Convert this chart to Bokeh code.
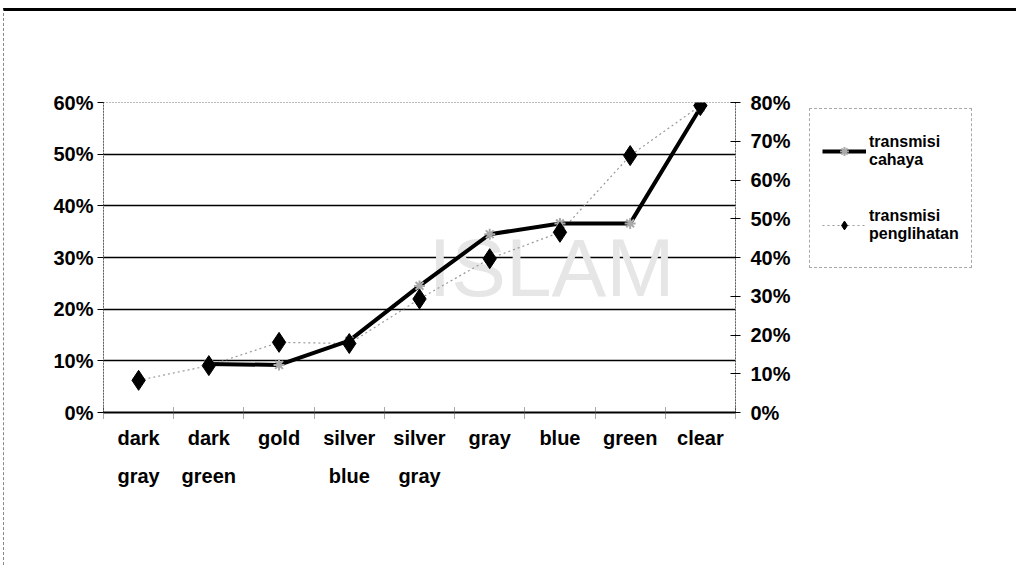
import numpy as np
from bokeh.plotting import figure
from bokeh.layouts import row
from bokeh.models import (Range1d, LinearAxis, FixedTicker, NumeralTickFormatter,
                          Legend, LegendItem, Label)
from bokeh.embed import file_html
from bokeh.resources import INLINE

# ---- data ----
categories = ["dark\ngray", "dark\ngreen", "gold", "silver\nblue", "silver\ngray",
              "gray", "blue", "green", "clear"]
transmisi_cahaya = [np.nan, 0.094, 0.092, 0.139, 0.245, 0.345, 0.366, 0.366, 0.59]
transmisi_penglihatan = [0.083, 0.121, 0.181, 0.178, 0.293, 0.397, 0.465, 0.663, 0.792]
left_ticks = [0.0, 0.1, 0.2, 0.3, 0.4, 0.5, 0.6]
right_ticks = [0.0, 0.1, 0.2, 0.3, 0.4, 0.5, 0.6, 0.7, 0.8]
series_names = ["transmisi\ncahaya", "transmisi\npenglihatan"]

FONT = "Liberation Sans"
FS = "20px"

# page offsets produced by the scanned page border (top rule, left dotted edge)
TOP_OFF = 11
LEFT_OFF = 4

n = len(categories)
xs = [i + 0.5 for i in range(n)]
bounds = [float(i) for i in range(n + 1)]

H = 554
MAIN_W = 800 - LEFT_OFF
FRAME_L, FRAME_R, FRAME_T, FRAME_B = 103, 735, 102, 412
p = figure(width=MAIN_W, height=H, output_backend="svg", toolbar_location=None,
           x_range=Range1d(0, n), y_range=Range1d(left_ticks[0], left_ticks[-1]),
           min_border_left=FRAME_L - LEFT_OFF,
           min_border_right=MAIN_W - (FRAME_R - LEFT_OFF),
           min_border_top=FRAME_T - TOP_OFF,
           min_border_bottom=H - (FRAME_B - TOP_OFF))
p.extra_y_ranges = {"right": Range1d(right_ticks[0], right_ticks[-1])}

p.background_fill_color = "white"
p.border_fill_color = "white"
p.outline_line_color = "#777777"
p.outline_line_dash = "1 2"
p.outline_line_width = 1

# grid
p.xgrid.visible = False
p.ygrid.ticker = FixedTicker(ticks=left_ticks[1:-1])
p.ygrid.grid_line_color = "black"
p.ygrid.grid_line_width = 1.5

# x axis
xa = p.xaxis[0]
xa.ticker = FixedTicker(ticks=xs, minor_ticks=bounds)
xa.major_label_overrides = {x: c for x, c in zip(xs, categories)}
xa.major_tick_line_color = None
xa.major_tick_out = 0
xa.major_tick_in = 0
xa.minor_tick_line_color = "#555555"
xa.minor_tick_line_dash = "1 1"
xa.minor_tick_in = 6
xa.minor_tick_out = 6
xa.axis_line_color = "black"
xa.axis_line_width = 2
xa.major_label_standoff = 8
xa.major_label_text_font = FONT
xa.major_label_text_font_size = FS
xa.major_label_text_font_style = "bold"
xa.major_label_text_color = "black"
xa.major_label_text_line_height = 1.75

# left axis
ya = p.yaxis[0]
ya.ticker = FixedTicker(ticks=left_ticks)
ya.formatter = NumeralTickFormatter(format="0%")
ya.axis_line_color = "black"
ya.axis_line_dash = "1 2"
ya.major_tick_in = 0
ya.major_tick_out = 6
ya.minor_tick_line_color = None
ya.major_label_standoff = 4
ya.major_label_text_font = FONT
ya.major_label_text_font_size = FS
ya.major_label_text_font_style = "bold"
ya.major_label_text_color = "black"

# right axis
ra = LinearAxis(y_range_name="right", ticker=FixedTicker(ticks=right_ticks),
                formatter=NumeralTickFormatter(format="0%"))
ra.axis_line_color = "black"
ra.axis_line_dash = "1 2"
ra.major_tick_in = 5
ra.major_tick_out = 5
ra.minor_tick_line_color = None
ra.major_label_standoff = 10
ra.major_label_text_font = FONT
ra.major_label_text_font_size = FS
ra.major_label_text_font_style = "bold"
ra.major_label_text_color = "black"
p.add_layout(ra, "right")

# watermark
wm = Label(x=325, y=100, x_units="screen", y_units="screen", text="ISLAM",
           text_font="Liberation Sans", text_font_size="82px", text_color="#e6e6e6",
           level="underlay")
p.add_layout(wm)

# series styles
cahaya_line = dict(line_color="black", line_width=4)
cahaya_mark = dict(marker="asterisk", size=11, line_color="#aaaaaa", line_width=2)
peng_line = dict(line_color="#999999", line_width=1.2, line_dash="2 3")
peng_mark = dict(marker="diamond", size=20, fill_color="black", line_color="black")

p.line(xs, transmisi_penglihatan, y_range_name="right", **peng_line)
p.line(xs, transmisi_cahaya, **cahaya_line)
p.scatter(xs, transmisi_cahaya, **cahaya_mark)
p.scatter(xs, transmisi_penglihatan, y_range_name="right", **peng_mark)

# legend panel (separate figure to the right; its frame aligns with the main frame)
LEG_W = 1016 - 800
q = figure(width=LEG_W, height=H, output_backend="svg", toolbar_location=None,
           x_range=Range1d(100, 101), y_range=Range1d(100, 101),
           min_border=0, x_axis_location=None, y_axis_location=None)
q.outline_line_color = None
q.grid.visible = False
q.background_fill_color = "white"
q.border_fill_color = "white"
ql1 = q.line(xs, transmisi_cahaya, **cahaya_line)
qs1 = q.scatter(xs, transmisi_cahaya, **cahaya_mark)
ql2 = q.line(xs, transmisi_penglihatan, **peng_line)
qs2 = q.scatter(xs, transmisi_penglihatan, **peng_mark)

legend = Legend(items=[LegendItem(label=series_names[0], renderers=[ql1, qs1]),
                       LegendItem(label=series_names[1], renderers=[ql2, qs2])],
                location=(809 - 800, FRAME_B - 268))
legend.border_line_color = "#555555"
legend.border_line_dash = "2 2"
legend.background_fill_color = "white"
legend.background_fill_alpha = 1.0
legend.label_text_font = FONT
legend.label_text_font_size = "16px"
legend.label_text_font_style = "bold"
legend.label_text_color = "black"
legend.label_height = 60
legend.glyph_width = 44
legend.glyph_height = 22
legend.label_standoff = 3
legend.spacing = 14
legend.padding = 12
legend.margin = 0
q.add_layout(legend)

layout = row(p, q, styles={"margin-top": "8px", "border-top": "3px solid black",
                           "margin-left": "3px", "border-left": "1px dashed #888888"})

open("out.html", "w").write(file_html(layout, INLINE))
